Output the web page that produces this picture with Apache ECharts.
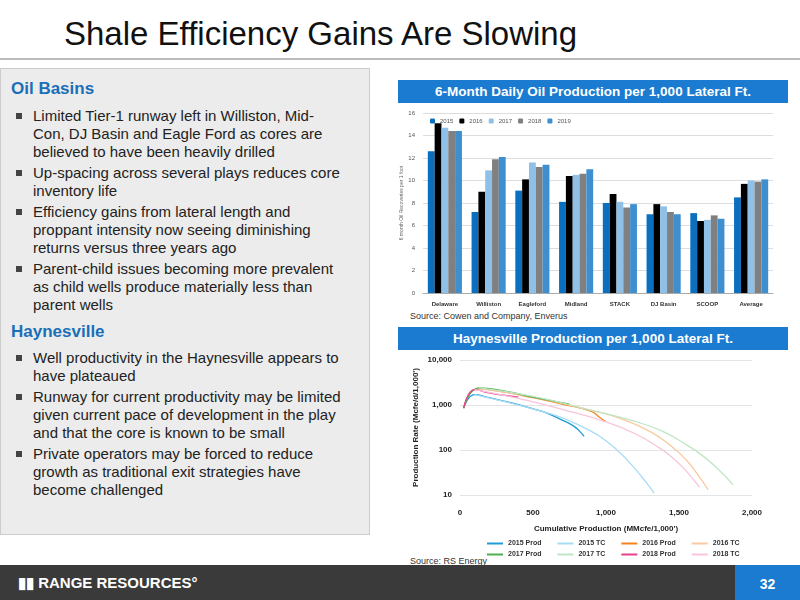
<!DOCTYPE html>
<html><head><meta charset="utf-8">
<script src="https://cdn.jsdelivr.net/npm/echarts@6/dist/echarts.min.js"></script>
<style>
body{margin:0;width:800px;height:600px;position:relative;font-family:Arial,"Liberation Sans",sans-serif;background:#fff;overflow:hidden}
#c{position:absolute;left:0;top:0;width:800px;height:600px}
.t{position:absolute}
#title{left:64px;top:15px;font-size:33px;color:#111}
#rule{left:0;top:58px;width:800px;height:2px;background:#bbb}
#left{left:0;top:68px;width:370px;height:467px;background:#ececec;border:1px solid #ccc;box-sizing:border-box}
.h{position:absolute;left:10px;font-size:17px;font-weight:bold;color:#1a6fb8}
ul{position:absolute;left:12px;margin:0;padding:0;list-style:none;width:330px}
li{font-size:15px;line-height:18px;color:#222;padding-left:20px;position:relative;margin-bottom:3px}
li:before{content:"";position:absolute;left:3px;top:6px;width:6px;height:6px;background:#444}
.ban{position:absolute;left:398px;width:390px;height:23px;background:#1a7bd0;color:#fff;font-weight:bold;font-size:13.5px;text-align:center;line-height:23px}
.src{position:absolute;left:410px;font-size:9px;color:#333}
#foot{left:0;top:565px;width:800px;height:35px;background:#3a3a3a}
#pg{left:735px;top:565px;width:65px;height:35px;background:#1a7bd0;color:#fff;font-weight:bold;font-size:14px;text-align:center;line-height:38px}
#logo{left:18px;top:574px;color:#fff;font-weight:bold;font-size:15px}
</style></head><body>
<div class="t" id="title">Shale Efficiency Gains Are Slowing</div>
<div class="t" id="rule"></div>
<div class="t" id="left">
<div class="h" style="top:10px">Oil Basins</div>
<ul style="top:38px">
<li>Limited Tier-1 runway left in Williston, Mid-Con, DJ Basin and Eagle Ford as cores are believed to have been heavily drilled</li>
<li>Up-spacing across several plays reduces core inventory life</li>
<li>Efficiency gains from lateral length and proppant intensity now seeing diminishing returns versus three years ago</li>
<li>Parent-child issues becoming more prevalent as child wells produce materially less than parent wells</li>
</ul>
<div class="h" style="top:253px">Haynesville</div>
<ul style="top:280px">
<li>Well productivity in the Haynesville appears to have plateaued</li>
<li>Runway for current productivity may be limited given current pace of development in the play and that the core is known to be small</li>
<li>Private operators may be forced to reduce growth as traditional exit strategies have become challenged</li>
</ul>
</div>
<div class="ban" style="top:80px">6-Month Daily Oil Production per 1,000 Lateral Ft.</div>
<div class="src" style="top:311px">Source: Cowen and Company, Enverus</div>
<div class="ban" style="top:327px">Haynesville Production per 1,000 Lateral Ft.</div>
<div class="src" style="top:556px">Source: RS Energy</div>
<div class="t" id="foot"></div>
<div class="t" id="logo">▮▮ RANGE RESOURCES°</div>
<div class="t" id="pg">32</div>
<div id="c"></div>
<script>
const basins=['Delaware','Williston','Eagleford','Midland','STACK','DJ Basin','SCOOP','Average'];
const years=['2015','2016','2017','2018','2019'];
const barVals=[
[12.6,7.2,9.1,8.1,8.0,7.0,7.1,8.5],
[15.1,9.0,10.1,10.4,8.8,7.9,6.4,9.7],
[14.7,10.9,11.6,10.5,8.1,7.7,6.5,10.0],
[14.4,11.9,11.2,10.6,7.6,7.2,6.9,9.9],
[14.4,12.1,11.4,11.0,7.9,7.0,6.6,10.1]];
const barColors=['#0a6fbf','#000000','#8ec0e8','#808080','#3d8fd0'];
const lineNames=['2015 Prod','2015 TC','2016 Prod','2016 TC','2017 Prod','2017 TC','2018 Prod','2018 TC'];
const lineColors=['#1f9bd7','#a8dcf4','#f5821f','#fbc9a0','#4caf50','#bfe6c4','#e8408c','#f7c4dc'];
const lineData=[
[[25,850],[100,1700],[200,1450],[300,1220],[400,1020],[500,820],[600,650],[700,460],[760,370],[800,300],[830,240],[850,200]],
[[100,1700],[300,1200],[500,820],[700,520],[900,260],[1000,160],[1100,85],[1200,38],[1270,20],[1330,11]],
[[25,850],[120,2300],[300,1950],[500,1450],[700,1050],[900,720],[960,520],[1000,430]],
[[120,2300],[500,1500],[900,760],[1100,500],[1300,260],[1450,120],[1550,60],[1630,28],[1700,13]],
[[25,850],[130,2400],[300,2050],[500,1500],[750,1050]],
[[130,2400],[500,1550],[900,760],[1200,430],[1400,250],[1550,130],[1650,80],[1760,40],[1870,17]],
[[25,850],[100,2200],[200,1850],[300,1650],[400,1500]],
[[100,2200],[400,1400],[700,800],[1000,420],[1200,230],[1350,120],[1450,70],[1550,34],[1640,15]]];
const ch=echarts.init(document.getElementById('c'));
const series=[];
years.forEach((y,i)=>series.push({name:y,type:'bar',xAxisIndex:0,yAxisIndex:0,data:barVals[i],itemStyle:{color:barColors[i]},barGap:'0%',barCategoryGap:'22%'}));
lineNames.forEach((n,i)=>series.push({name:n,type:'line',xAxisIndex:1,yAxisIndex:1,data:lineData[i],showSymbol:false,smooth:true,lineStyle:{color:lineColors[i],width:1.3},itemStyle:{color:lineColors[i]}}));
const lg={left:487,itemWidth:16,itemHeight:2,itemGap:16,icon:'rect',padding:0,textStyle:{fontSize:7,fontWeight:'bold',color:'#333',width:42}};
ch.setOption({animation:false,
legend:[{data:years,left:425,top:113,itemWidth:5,itemHeight:5,itemGap:6,textStyle:{fontSize:6,color:'#555'}},
Object.assign({data:lineNames.slice(0,4),top:540},lg),Object.assign({data:lineNames.slice(4),top:551},lg)],
grid:[{left:423,top:113,width:350,height:180},{left:460,top:360,width:292,height:135}],
xAxis:[{type:'category',gridIndex:0,data:basins,axisTick:{show:false},axisLine:{lineStyle:{color:'#aaa'}},axisLabel:{fontSize:6,fontWeight:'bold',color:'#333',interval:0}},
{type:'value',gridIndex:1,min:0,max:2000,interval:500,axisLine:{show:false},axisTick:{show:false},splitLine:{show:false},axisLabel:{fontSize:8,fontWeight:'bold',color:'#222',margin:14},name:"Cumulative Production (MMcfe/1,000')",nameLocation:'middle',nameGap:30,nameTextStyle:{fontSize:8,fontWeight:'bold',color:'#222'}}],
yAxis:[{type:'value',gridIndex:0,min:0,max:16,interval:2,axisLabel:{fontSize:6,color:'#555'},splitLine:{lineStyle:{color:'#ddd'}},name:'6 month Oil Recoveries per 1 foot',nameLocation:'middle',nameGap:12,nameTextStyle:{fontSize:5,color:'#666'}},
{type:'log',gridIndex:1,min:10,max:10000,logBase:10,axisLine:{show:false},axisTick:{show:false},splitLine:{lineStyle:{color:'#e4e4e4'}},axisLabel:{fontSize:8,fontWeight:'bold',color:'#222',formatter:v=>v.toLocaleString('en-US')},name:"Production Rate (Mcfe/d/1,000')",nameLocation:'middle',nameGap:40,nameTextStyle:{fontSize:8,fontWeight:'bold',color:'#222'}}],
series});
</script></body></html>
